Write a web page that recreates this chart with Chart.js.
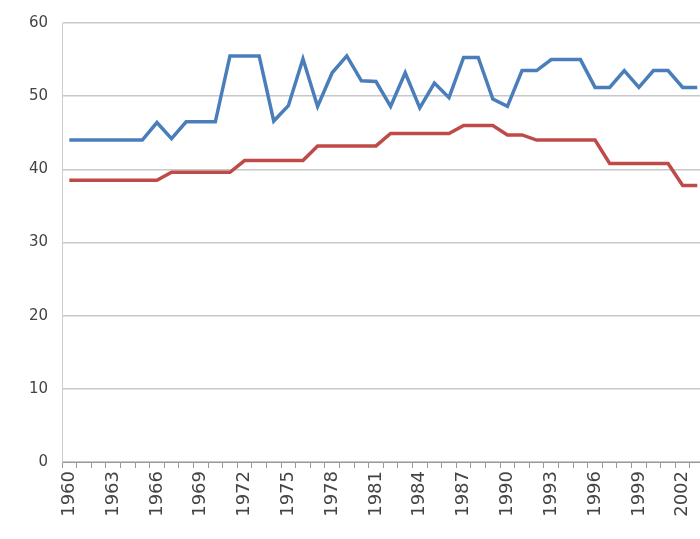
<!DOCTYPE html>
<html><head><style>html,body{margin:0;padding:0;overflow:hidden;background:#fff}#w{width:722px;height:539px}</style>
<script src="https://cdn.jsdelivr.net/npm/chart.js@4"></script></head>
<body><div id="w"><canvas id="c"></canvas></div>
<script>
const years = [];
for (let y = 1960; y <= 2003; y++) years.push(String(y));
const blue = [44,44,44,44,44,44,46.4,44.2,46.5,46.5,46.5,55.5,55.5,55.5,46.6,48.7,55.1,48.6,53.2,55.5,52.1,52,48.6,53.2,48.4,51.8,49.8,55.3,55.3,49.6,48.6,53.5,53.5,55,55,55,51.2,51.2,53.5,51.2,53.5,53.5,51.2,51.2];
const red = [38.5,38.5,38.5,38.5,38.5,38.5,38.5,39.6,39.6,39.6,39.6,39.6,41.2,41.2,41.2,41.2,41.2,43.2,43.2,43.2,43.2,43.2,44.9,44.9,44.9,44.9,44.9,46,46,46,44.7,44.7,44,44,44,44,44,40.8,40.8,40.8,40.8,40.8,37.8,37.8];
const yTicks = [0,10,20,30,40,50,60];
new Chart(document.getElementById('c'), {
  type: 'line',
  data: { labels: years, datasets: [
    {data: blue, borderColor: '#4a7ebb', borderWidth: 3.5, pointRadius: 0, tension: 0},
    {data: red, borderColor: '#be4b48', borderWidth: 3.5, pointRadius: 0, tension: 0}
  ]},
  options: {
    responsive: true, maintainAspectRatio: false, animation: false,
    layout: {padding: {top: 22, right: 10, left: 0, bottom: 0}},
    plugins: {legend: {display: false}, tooltip: {enabled: false}},
    scales: {
      x: {offset: true, afterFit: s => { s.height = 77; },
        grid: {display: true, drawOnChartArea: false, tickLength: 6, color: '#999', offset: true},
        border: {color: '#999'},
        ticks: {autoSkip: false, maxRotation: 90, minRotation: 90, padding: 3, color: '#444', font: {family: 'DejaVu Sans', size: 18},
          callback: (v, i) => i % 3 === 0 ? years[i] : ''}},
      y: {min: 0, max: 60, afterFit: s => { s.width = 62; }, afterBuildTicks: a => { a.ticks = yTicks.map(v => ({value: v})); },
        grid: {color: '#c8c8c8', lineWidth: 1.5, drawTicks: false},
        border: {display: true, color: '#ccc'},
        ticks: {color: '#444', padding: 14, font: {family: 'DejaVu Sans', size: 15}}}
    }
  }
});
</script></body></html>
